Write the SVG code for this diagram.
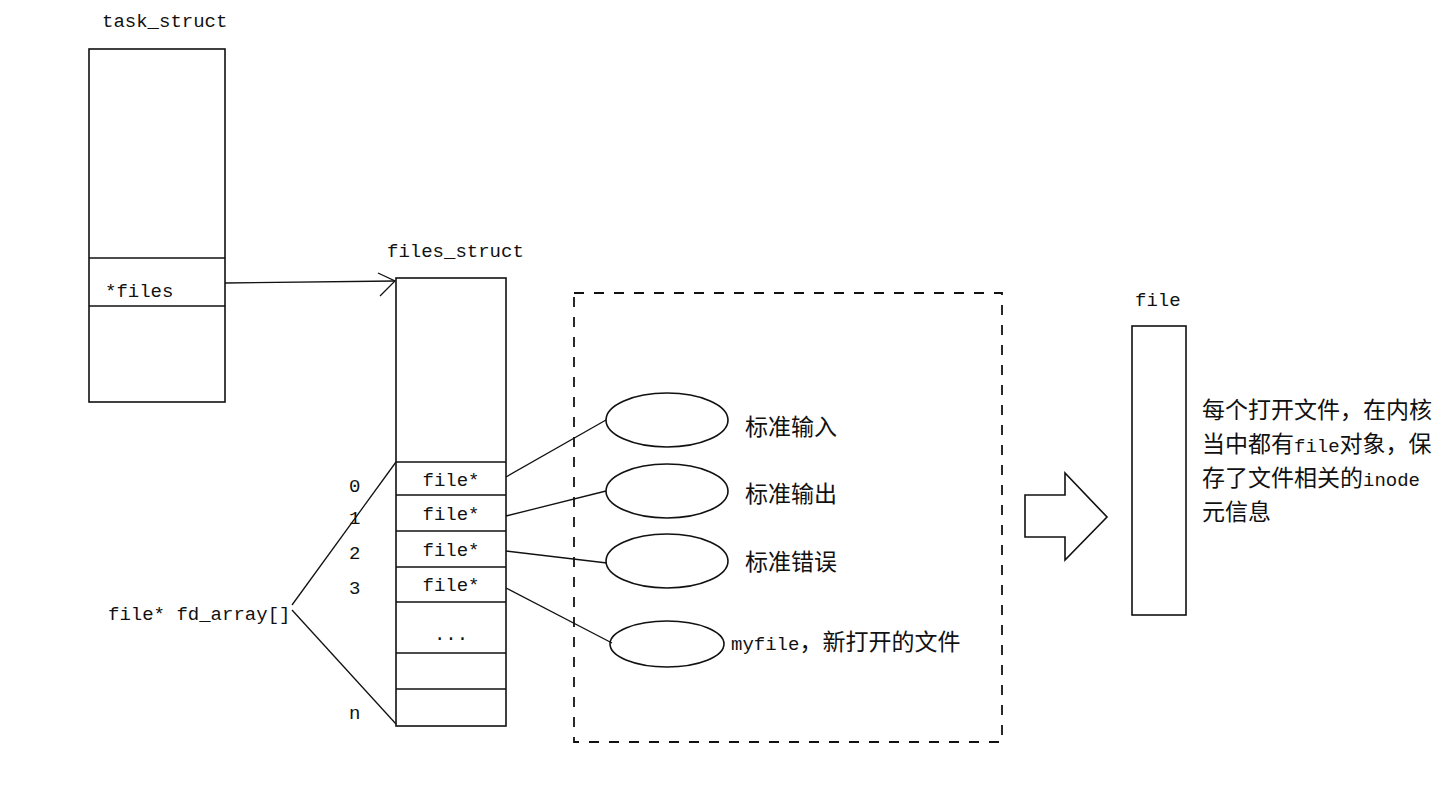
<svg xmlns="http://www.w3.org/2000/svg" width="1451" height="790" viewBox="0 0 1451 790">
<style>
.box{fill:none;stroke:#111;stroke-width:1.6}
.ln{fill:none;stroke:#111;stroke-width:1.3}
.m{font-family:"Liberation Mono","DejaVu Sans Mono",monospace;font-size:19px;fill:#111}
.c{font-family:"Noto Sans CJK SC","Noto Sans CJK TC",sans-serif;font-size:23px;fill:#111}
.cl{font-family:"Liberation Mono","DejaVu Sans Mono",monospace;font-size:19px}
</style>
<rect width="1451" height="790" fill="#fff"/>
<g id="task_struct">
<text class="m" x="102" y="27">task_struct</text>
<rect class="box" x="89" y="49" width="136" height="353"/>
<line class="box" x1="89" y1="258" x2="225" y2="258"/>
<line class="box" x1="89" y1="306" x2="225" y2="306"/>
<text class="m" x="105" y="297">*files</text>
</g>
<g id="files_struct">
<text class="m" x="387" y="257">files_struct</text>
<rect class="box" x="396" y="278" width="110" height="448"/>
<line class="box" x1="396" y1="462" x2="506" y2="462"/>
<line class="box" x1="396" y1="495" x2="506" y2="495"/>
<line class="box" x1="396" y1="531" x2="506" y2="531"/>
<line class="box" x1="396" y1="567" x2="506" y2="567"/>
<line class="box" x1="396" y1="602" x2="506" y2="602"/>
<line class="box" x1="396" y1="653" x2="506" y2="653"/>
<line class="box" x1="396" y1="689" x2="506" y2="689"/>
<text class="m" x="451" y="486" text-anchor="middle">file*</text>
<text class="m" x="451" y="520" text-anchor="middle">file*</text>
<text class="m" x="451" y="556" text-anchor="middle">file*</text>
<text class="m" x="451" y="591" text-anchor="middle">file*</text>
<text class="m" x="451" y="640" text-anchor="middle">...</text>
</g>
<g id="indices">
<text class="m" x="349" y="492">0</text>
<text class="m" x="349" y="524">1</text>
<text class="m" x="349" y="559">2</text>
<text class="m" x="349" y="594">3</text>
<text class="m" x="349" y="719">n</text>
<text class="m" x="108" y="620">file* fd_array[]</text>
</g>
<g id="open_files">
<rect x="574" y="293" width="428" height="449" fill="none" stroke="#111" stroke-width="1.8" stroke-dasharray="10,10"/>
<ellipse class="box" cx="667" cy="420" rx="61" ry="27"/>
<ellipse class="box" cx="667" cy="491" rx="61" ry="27"/>
<ellipse class="box" cx="667" cy="561" rx="61" ry="27"/>
<ellipse class="box" cx="667" cy="644" rx="57" ry="23"/>
<text class="c" x="745" y="435">标准输入</text>
<text class="c" x="745" y="502">标准输出</text>
<text class="c" x="745" y="570">标准错误</text>
<text class="c" x="731" y="650"><tspan class="cl">myfile</tspan>，新打开的文件</text>
</g>
<g id="file">
<text class="m" x="1135" y="306">file</text>
<rect class="box" x="1132" y="326" width="54" height="289"/>
<text class="c" x="1202" y="418">每个打开文件，在内核</text>
<text class="c" x="1202" y="452">当中都有<tspan class="cl">file</tspan>对象，保</text>
<text class="c" x="1202" y="486">存了文件相关的<tspan class="cl">inode</tspan></text>
<text class="c" x="1202" y="520">元信息</text>
</g>
<g id="connectors">
<line class="ln" x1="225" y1="283" x2="395" y2="281"/>
<polyline class="ln" points="378,273 395,281 380,296"/>
<line class="ln" x1="292" y1="605" x2="396" y2="462"/>
<line class="ln" x1="292" y1="610" x2="396" y2="724"/>
<line class="ln" x1="506" y1="477" x2="606" y2="420"/>
<line class="ln" x1="506" y1="516" x2="606" y2="491"/>
<line class="ln" x1="506" y1="551" x2="607" y2="563"/>
<line class="ln" x1="506" y1="588" x2="612" y2="643"/>
<polygon class="box" points="1025,495 1065,495 1065,473 1107,517 1065,560 1065,537 1025,537"/>
</g>
</svg>
